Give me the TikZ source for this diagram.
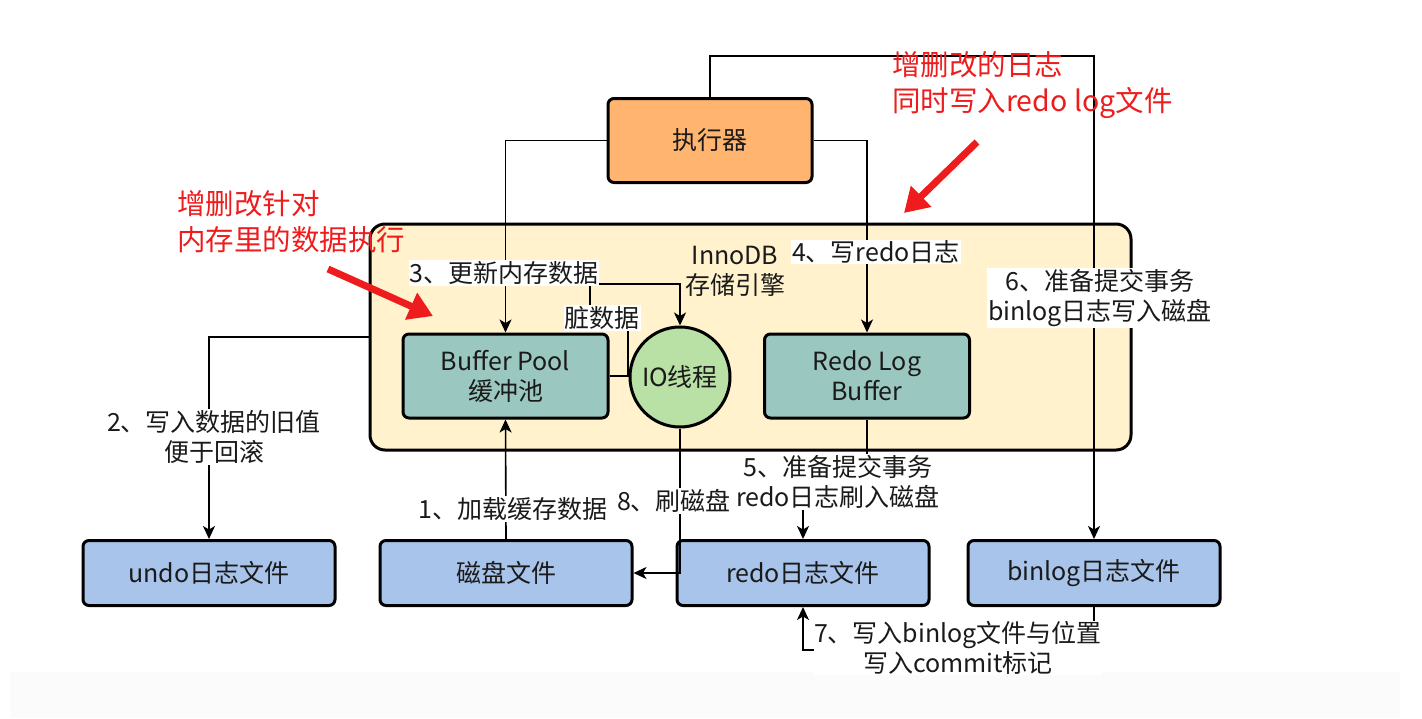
\documentclass[tikz,border=0pt]{standalone}
\usepackage{fontspec}
\setmainfont{Noto Sans CJK SC}
\usetikzlibrary{arrows.meta}
\definecolor{txt}{RGB}{26,26,26}
\definecolor{execfill}{RGB}{255,181,112}
\definecolor{engfill}{RGB}{255,242,204}
\definecolor{tealfill}{RGB}{154,199,191}
\definecolor{iofill}{RGB}{185,224,165}
\definecolor{filefill}{RGB}{169,196,235}
\definecolor{redc}{RGB}{238,28,28}
\definecolor{bandc}{RGB}{251,251,251}
\newcommand\mylbl{\fontsize{25}{30}\selectfont}
\newcommand\myred{\fontsize{28.5}{36}\selectfont}
\begin{document}
\begin{tikzpicture}[x=1pt,y=-1pt,
  every node/.style={text=txt},
  boxbase/.style={draw=black, line width=3pt, rounded corners=6pt, inner sep=0pt, align=center, font=\mylbl},
  execbox/.style={boxbase, fill=execfill, minimum width=204pt, minimum height=84pt},
  tealbox/.style={boxbase, fill=tealfill, minimum width=205pt, minimum height=84pt},
  filebox/.style={boxbase, fill=filefill, minimum width=252pt, minimum height=65pt},
  engbox/.style={draw=black, line width=3pt, rounded corners=15pt, fill=engfill, minimum width=761pt, minimum height=226pt, inner sep=0pt},
  iobox/.style={circle, draw=black, line width=3pt, fill=iofill, minimum size=100pt, inner sep=0pt, font=\mylbl},
  conn/.style={draw=black, line width=1.6pt},
  arr/.style={conn, -{Stealth[length=13pt, width=12pt, inset=3.5pt]}},
  lab/.style={fill=white, inner sep=1pt, align=center, font=\mylbl},
  plain/.style={inner sep=0pt, align=center, font=\mylbl},
  redtext/.style={text=redc, inner sep=0pt, align=left, font=\myred},
  redarrow/.style={draw=redc, line width=7pt, -{Triangle[length=24pt, width=28pt]}}
]
\useasboundingbox (0,0) rectangle (1422,718);
\fill[bandc] (10,672) rectangle (1400,718);

% container and boxes
\node[engbox] (eng) at (750.5,337) {};
\node[execbox] (exe) at (710,140.5) {执行器};
\node[tealbox] (bp) at (505.5,376) {Buffer Pool\\缓冲池};
\node[iobox] (io) at (680,377) {IO线程};
\node[tealbox] (rlb) at (867,376) {Redo Log\\Buffer};
\node[plain] (inno) at (735,271) {InnoDB\\存储引擎};
\node[filebox] (undo) at (209,573) {undo日志文件};
\node[filebox] (disk) at (506,573) {磁盘文件};
\node[filebox] (redo) at (803,573) {redo日志文件};
\node[filebox] (bin) at (1094,573) {binlog日志文件};

% connectors
\draw[arr] (exe.west) -| (bp.north);
\draw[arr] (exe.east) -| (rlb.north);
\draw[arr] (exe.north) -- ++(0,-41) -| (bin.north);
\draw[arr] (eng.west) -| (undo.north);
\draw[arr] (disk.north) -- (bp.south);
\draw[arr] (bp.east) -- (628,376) -- (628,318) -- (590,318) -- (590,284) -| (io.north);
\draw[arr] (io.south) |- (disk.east);
\draw[arr] (rlb.south) -- ++(0,62) -| (redo.north);
\draw[arr] (bin.south) -- ++(0,43) -| (redo.south);

% connector labels
\node[lab] (l3) at (504,273) {3、更新内存数据};
\node[lab] (ldirty) at (602,318) {脏数据};
\node[lab] (l4) at (876,252) {4、写redo日志};
\node[lab] (l6) at (1100,298) {6、准备提交事务\\binlog日志写入磁盘};
\node[lab] (l2) at (214,437) {2、写入数据的旧值\\便于回滚};
\node[lab] (l1) at (513,509) {1、加载缓存数据};
\node[lab] (l8) at (674,501) {8、刷磁盘};
\node[lab, inner sep=0pt] (l7) at (958,648) {7、写入binlog文件与位置\\写入commit标记};

\node[lab] (l5) at (838,482) {5、准备提交事务\\redo日志刷入磁盘};

% red annotations
\node[redtext, anchor=west] (r1) at (177,222) {增删改针对\\内存里的数据执行};
\node[redtext, anchor=west] (r2) at (892,85) {增删改的日志\\同时写入redo log文件};
\coordinate (ra1s) at (328,269);
\coordinate (ra1e) at (433,316);
\coordinate (ra2s) at (977,142);
\coordinate (ra2e) at (904,213);
\draw[redarrow] (ra1s) -- (ra1e);
\draw[redarrow] (ra2s) -- (ra2e);
\end{tikzpicture}
\end{document}
